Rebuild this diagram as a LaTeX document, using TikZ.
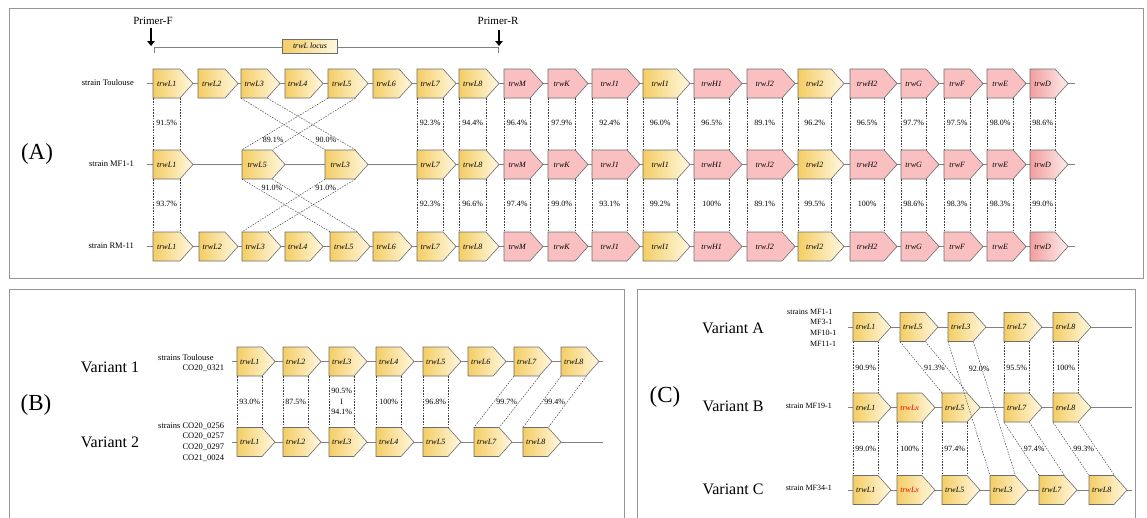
\documentclass[tikz,border=0pt]{standalone}
\usepackage{fontspec}
\setmainfont{Liberation Serif}
\usetikzlibrary{calc,arrows.meta}
\definecolor{yl}{RGB}{244,205,100}
\definecolor{yr}{RGB}{255,248,225}
\definecolor{pk}{RGB}{249,191,193}
\definecolor{pkl}{RGB}{242,158,158}
\definecolor{pkr}{RGB}{253,236,236}
\definecolor{gbord}{RGB}{110,110,110}
\definecolor{frm}{RGB}{150,150,150}
\tikzset{
 genebox/.style={draw=gbord, line width=0.6pt},
 gy/.style={left color=yl, right color=yr},
 gp/.style={fill=pk},
 gd/.style={left color=pkl, right color=pkr},
 genelbl/.style={inner sep=0pt, minimum height=29, font=\itshape\fontsize{8}{9}\selectfont},
 pct/.style={font=\fontsize{8}{10.5}\selectfont, inner sep=0.5pt, align=center},
 dlink/.style={dash pattern=on 1.6pt off 1.2pt, line width=0.45pt, black!75},
 rowline/.style={line width=0.6pt, gray},
 frame/.style={draw=frm, line width=0.8pt},
 strainA/.style={font=\fontsize{8.5}{10.7}\selectfont, inner sep=0},
 strainC/.style={font=\fontsize{8}{10.7}\selectfont, inner sep=0},
 variant/.style={font=\fontsize{16}{18}\selectfont, inner sep=0},
 panel/.style={font=\fontsize{23}{26}\selectfont, inner sep=0},
 primer/.style={font=\fontsize{11}{12}\selectfont, inner sep=0},
 primarrow/.style={line width=2.4pt, -{Triangle[length=5pt,width=7.5pt]}},
}
\newcommand\gene[6]{%
  \path[genebox,#6] (#2,#3-14.5) -- ++(#4,0) -- ++(13,14.5) -- ++(-13,14.5) -- ++(-#4,0) -- cycle;
  \node[genelbl,minimum width=#4,anchor=west] (#1) at (#2,#3) {#5};}
\newcommand\glink[6]{%
  \draw[dlink] (#1.south west) -- (#2.north west);
  \draw[dlink] (#1.south east) -- (#2.north east);
  \node[pct,xshift=#6] (#4) at ($(#1.south)!#5!(#2.north)$) {#3};}
\begin{document}
\begin{tikzpicture}[x=1pt,y=-1pt]
\useasboundingbox (0,0) rectangle (1147,517);
\fill[white] (0,0) rectangle (1147,517);
% frames
\draw[frame] (9,8) rectangle (1143,278);
\draw[frame] (9,289) rectangle (624,530);
\draw[frame] (637,289) rectangle (1135,530);
% ================= Panel A
\node[panel] (labA) at (37,154) {(A)};
\node[primer] (pF) at (153,21) {Primer-F};
\node[primer] (pR) at (498,21) {Primer-R};
\coordinate (pFa) at (151,28); \coordinate (pFb) at (151,46);
\coordinate (pRa) at (499,30); \coordinate (pRb) at (499,46);
\draw[primarrow] (pFa) -- (pFb);
\draw[primarrow] (pRa) -- (pRb);
\coordinate (loc1) at (154,53); \coordinate (loc2) at (154,47);
\coordinate (loc3) at (498,47); \coordinate (loc4) at (498,53);
\draw[rowline] (loc1) -- (loc2) -- (loc3) -- (loc4);
\node[genebox,gy,minimum width=55,minimum height=14,inner sep=0,font=\itshape\fontsize{8}{9}\selectfont] (locus) at (310,46) {trwL locus};
\node[strainA,anchor=east] (sT) at (134,83) {strain Toulouse};
\node[strainA,anchor=east] (sM) at (134,164) {strain MF1-1};
\node[strainA,anchor=east] (sR) at (134,246) {strain RM-11};
\foreach \yy/\k in {83.5/1,164.5/2,246.5/3}{
  \coordinate (ra\k) at (147,\yy); \coordinate (rb\k) at (1075,\yy);
  \draw[rowline] (ra\k) -- (rb\k);}
% row 1
\foreach \n/\x/\w/\s in {L1/153/27/gy,L2/198/27/gy,L3/241/26/gy,L4/285/25/gy,L5/328/27/gy,L6/373/26/gy}
  \gene{t\n}{\x}{83.5}{\w}{trw\n}{\s};
% row 3
\foreach \n/\x/\w/\s in {L1/153/27/gy,L2/199/26/gy,L3/242/26/gy,L4/285/25/gy,L5/330/27/gy,L6/373/26/gy}
  \gene{r\n}{\x}{246.5}{\w}{trw\n}{\s};
% row 2
\gene{mL1}{153}{164.5}{27}{trwL1}{gy}
\gene{mL5}{242}{164.5}{30}{trwL5}{gy}
\gene{mL3}{325}{164.5}{30}{trwL3}{gy}
% common columns
\foreach \n/\x/\w/\s in {L7/417/26/gy,L8/459/27/gy,M/504/26/gp,K/548/27/gp,J1/592/35/gp,I1/643/34/gy,H1/694/35/gp,J2/747/35/gp,I2/798/33/gy,H2/850/34/gp,G/901/25/gp,F/944/26/gp,E/987/26/gp,D/1030/25/gd}{
  \gene{t\n}{\x}{83.5}{\w}{trw\n}{\s}
  \gene{m\n}{\x}{164.5}{\w}{trw\n}{\s}
  \gene{r\n}{\x}{246.5}{\w}{trw\n}{\s}}
% links
\foreach \n/\p/\q in {L1/91.5/93.7,L7/92.3/92.3,L8/94.4/96.6,M/96.4/97.4,K/97.9/99.0,J1/92.4/93.1,I1/96.0/99.2,H1/96.5/100,J2/89.1/89.1,I2/96.2/99.5,H2/96.5/100,G/97.7/98.6,F/97.5/98.3,E/98.0/98.3,D/98.6/99.0}{
  \glink{t\n}{m\n}{\p\%}{pa\n}{0.48}{0pt}
  \glink{m\n}{r\n}{\q\%}{pb\n}{0.47}{0pt}}
\glink{tL5}{mL5}{89.1\%}{xa1}{0.81}{0pt}
\glink{tL3}{mL3}{90.0\%}{xa2}{0.81}{2pt}
\glink{mL5}{rL5}{91.0\%}{xb1}{0.17}{0pt}
\glink{mL3}{rL3}{91.0\%}{xb2}{0.17}{0pt}
% ================= Panel B
\node[panel] (labB) at (36,405) {(B)};
\node[variant] (v1) at (110,367) {Variant 1};
\node[variant] (v2) at (110,442) {Variant 2};
\node[strainA,anchor=west] (sB1) at (158,363.5) {\begin{tabular}{@{}l@{\ }l@{}}strains & Toulouse\\ & CO20\_0321\end{tabular}};
\node[strainA,anchor=west] (sB2) at (158,442) {\begin{tabular}{@{}l@{\ }l@{}}strains & CO20\_0256\\ & CO20\_0257\\ & CO20\_0297\\ & CO21\_0024\end{tabular}};
\coordinate (ba1) at (232,361.5); \coordinate (bb1) at (603,361.5);
\coordinate (ba2) at (232,442); \coordinate (bb2) at (603,442);
\draw[rowline] (ba1) -- (bb1);
\draw[rowline] (ba2) -- (bb2);
\foreach \n/\x in {L1/237,L2/283,L3/329,L4/376,L5/423,L6/468,L7/514,L8/561}
  \gene{b\n}{\x}{361.5}{25}{trw\n}{gy};
\foreach \n/\x in {L1/237,L2/283,L3/329,L4/376,L5/423,L7/474,L8/523}
  \gene{v\n}{\x}{442}{25}{trw\n}{gy};
\foreach \n/\p in {L1/93.0,L2/87.5,L4/100,L5/96.8,L7/99.7,L8/99.4}
  \glink{b\n}{v\n}{\p\%}{pB\n}{0.5}{0pt};
\glink{bL3}{vL3}{90.5\%\\I\\94.1\%}{pBL3}{0.5}{0pt}
% ================= Panel C
\node[panel] (labC) at (665,397) {(C)};
\node[variant] (vA) at (733,328) {Variant A};
\node[variant] (vB) at (733,406) {Variant B};
\node[variant] (vC) at (733,489) {Variant C};
\node[strainC,anchor=west] (sCA) at (787,328) {\begin{tabular}{@{}l@{\ }l@{}}strains & MF1-1\\ & MF3-1\\ & MF10-1\\ & MF11-1\end{tabular}};
\node[strainC,anchor=east] (sCB) at (832,406) {strain MF19-1};
\node[strainC,anchor=east] (sCC) at (832,488) {strain MF34-1};
\foreach \yy/\k in {327/1,407.5/2,490/3}{
  \coordinate (ca\k) at (848,\yy); \coordinate (cb\k) at (1132,\yy);
  \draw[rowline] (ca\k) -- (cb\k);}
\foreach \n/\x in {L1/853,L5/900,L3/948,L7/1004,L8/1053}
  \gene{ca\n}{\x}{327}{25}{trw\n}{gy};
\foreach \n/\x in {L1/853,L5/942,L7/1004,L8/1053}
  \gene{cb\n}{\x}{407.5}{25}{trw\n}{gy};
\gene{cbLx}{897}{407.5}{25}{\textcolor{red}{trwLx}}{gy}
\foreach \n/\x in {L1/853,L5/942,L3/990,L7/1039,L8/1089}
  \gene{cc\n}{\x}{490}{25}{trw\n}{gy};
\gene{ccLx}{897}{490}{25}{\textcolor{red}{trwLx}}{gy}
\foreach \n/\p in {L1/90.9,L5/91.3,L7/95.5,L8/100}
  \glink{ca\n}{cb\n}{\p\%}{pCa\n}{0.52}{0pt};
\glink{caL3}{ccL3}{92.0\%}{pCaL3}{0.2}{10pt}
\foreach \n/\p in {L1/99.0,Lx/100,L5/97.4,L7/97.4,L8/99.3}
  \glink{cb\n}{cc\n}{\p\%}{pCb\n}{0.5}{0pt};
\end{tikzpicture}
\end{document}
